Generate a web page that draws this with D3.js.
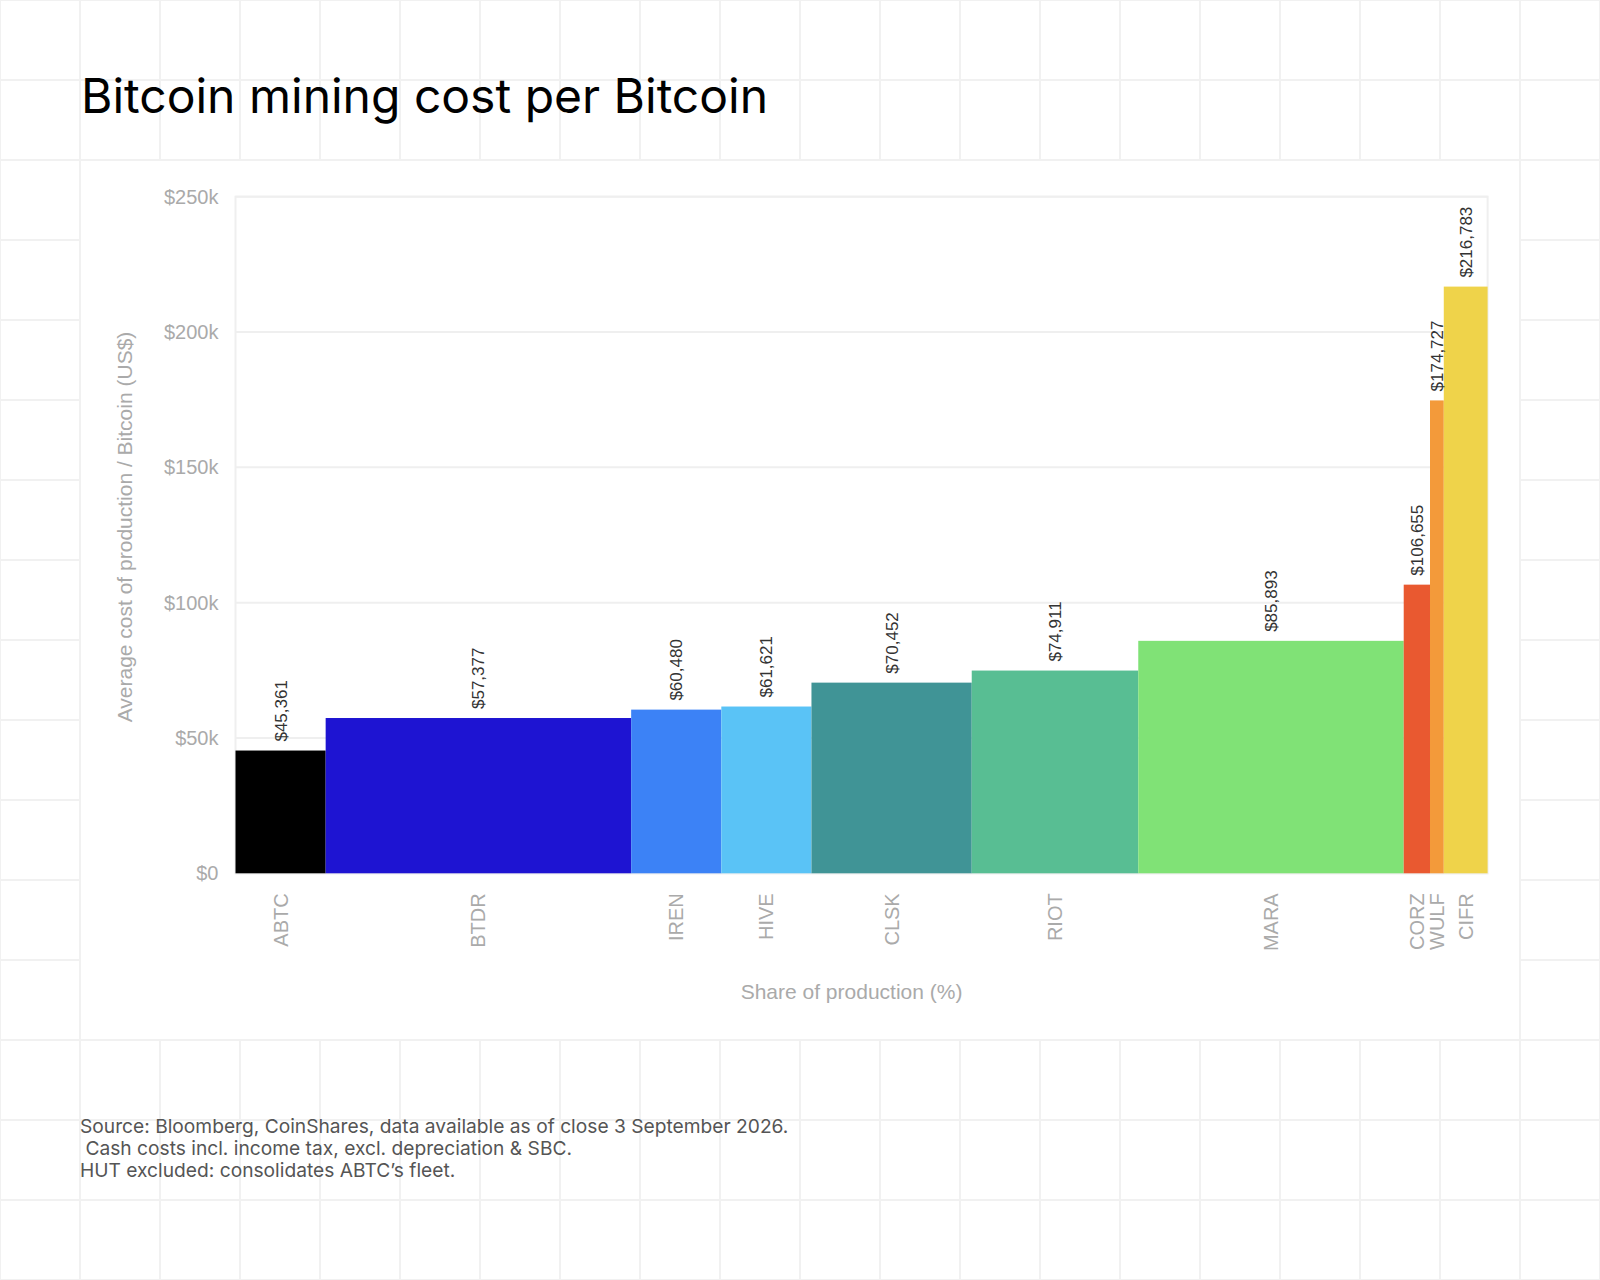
<!DOCTYPE html>
<html>
<head>
<meta charset="utf-8">
<style>
  body { margin: 0; background: #fff; }
  svg { display: block; }
</style>
</head>
<body>
<svg width="1600" height="1280"></svg>
<script src="https://d3js.org/d3.v7.min.js"></script>
<script>

// miners, left to right
var tickers = ["ABTC", "BTDR", "IREN", "HIVE", "CLSK", "RIOT", "MARA", "CORZ", "WULF", "CIFR"];
// average cost per bitcoin (US$)
var costs = [45361, 57377, 60480, 61621, 70452, 74911, 85893, 106655, 174727, 216783];
// share of production (%)
var shares = [7.2, 24.4, 7.2, 7.2, 12.8, 13.3, 21.2, 2.1, 1.1, 3.5];
var barColors = ["#000000", "#1e14d2", "#3c82f6", "#5ac3f6", "#409496",
                 "#58be93", "#80e276", "#e95930", "#f39a3a", "#efd34a"];
var yTicks = [0, 50000, 100000, 150000, 200000, 250000];
var footnotes = [
  "Source: Bloomberg, CoinShares, data available as of close 3 September 2026.",
  " Cash costs incl. income tax, excl. depreciation & SBC.",
  "HUT excluded: consolidates ABTC\u2019s fleet."
];

var drawChart = function() {

  var W = 1600, H = 1280;
  var svg = d3.select("svg");

  // background grid of 80px squares
  var grid = svg.append("g").attr("stroke", "#f1f1f1").attr("stroke-width", 2);
  grid.selectAll("line.v")
      .data(d3.range(0, W + 1, 80))
      .enter().append("line")
      .attr("x1", function(d) { return d; }).attr("x2", function(d) { return d; })
      .attr("y1", 0).attr("y2", H);
  grid.selectAll("line.h")
      .data(d3.range(0, H + 1, 80))
      .enter().append("line")
      .attr("y1", function(d) { return d; }).attr("y2", function(d) { return d; })
      .attr("x1", 0).attr("x2", W);

  // white card behind the chart
  svg.append("rect")
      .attr("x", 81).attr("y", 161)
      .attr("width", 1438).attr("height", 878)
      .attr("fill", "#fff");

  // title
  svg.append("text")
      .attr("x", 81).attr("y", 113)
      .style("font-family", "Inter, 'Liberation Sans', sans-serif")
      .style("font-size", "48px")
      .style("fill", "#000")
      .text("Bitcoin mining cost per Bitcoin");

  // plot area
  var pLeft = 235.5, pRight = 1487.6, pTop = 196.7, pBottom = 873.3;

  var x = d3.scaleLinear().domain([0, d3.sum(shares)]).range([pLeft, pRight]);
  var y = d3.scaleLinear().domain([0, 250000]).range([pBottom, pTop]);

  var axisFont = "'Liberation Sans', Arial, Helvetica, sans-serif";

  // horizontal gridlines
  svg.append("g")
      .selectAll("line")
      .data(yTicks)
      .enter().append("line")
      .attr("x1", pLeft).attr("x2", pRight)
      .attr("y1", function(d) { return y(d); })
      .attr("y2", function(d) { return y(d); })
      .attr("stroke", "#efefef")
      .attr("stroke-width", 2);

  // frame
  svg.append("rect")
      .attr("x", pLeft).attr("y", pTop)
      .attr("width", pRight - pLeft).attr("height", pBottom - pTop)
      .attr("fill", "none")
      .attr("stroke", "#efefef")
      .attr("stroke-width", 2);

  // y axis labels
  var yAxis = d3.axisLeft(y)
      .tickValues(yTicks)
      .tickSize(0)
      .tickPadding(17)
      .tickFormat(function(d) { return d === 0 ? "$0" : "$" + d / 1000 + "k"; });

  svg.append("g")
      .attr("transform", "translate(" + pLeft + ",0)")
      .call(yAxis)
      .call(function(g) { g.select(".domain").remove(); })
      .selectAll("text")
      .style("font-family", axisFont)
      .style("font-size", "20px")
      .style("fill", "#aaaaaa");

  // cumulative positions
  var rows = tickers.map(function(t, i) {
    return {
      ticker: t,
      cost: costs[i],
      start: d3.sum(shares.slice(0, i)),
      end: d3.sum(shares.slice(0, i + 1)),
      color: barColors[i]
    };
  });

  // bars
  svg.append("g")
      .selectAll("rect")
      .data(rows)
      .enter().append("rect")
      .attr("x", function(d) { return x(d.start); })
      .attr("width", function(d) { return x(d.end) - x(d.start); })
      .attr("y", function(d) { return y(d.cost); })
      .attr("height", function(d) { return y(0) - y(d.cost); })
      .attr("fill", function(d) { return d.color; });

  // value labels
  svg.append("g")
      .selectAll("text")
      .data(rows)
      .enter().append("text")
      .attr("transform", function(d) {
        return "translate(" + ((x(d.start) + x(d.end)) / 2) + "," + (y(d.cost) - 9) + ") rotate(-90)";
      })
      .attr("dy", "0.35em")
      .attr("text-anchor", "start")
      .style("font-family", axisFont)
      .style("font-size", "17px")
      .style("fill", "#333")
      .text(function(d) { return "$" + d3.format(",")(d.cost); });

  // ticker labels under the bars
  svg.append("g")
      .selectAll("text")
      .data(rows)
      .enter().append("text")
      .attr("transform", function(d) {
        return "translate(" + ((x(d.start) + x(d.end)) / 2) + "," + (pBottom + 20) + ") rotate(-90)";
      })
      .attr("dy", "0.35em")
      .attr("text-anchor", "end")
      .style("font-family", axisFont)
      .style("font-size", "20px")
      .style("fill", "#aaaaaa")
      .text(function(d) { return d.ticker; });

  // axis titles
  svg.append("text")
      .attr("transform", "translate(125," + ((pTop + pBottom) / 2 - 8) + ") rotate(-90)")
      .attr("dy", "0.35em")
      .attr("text-anchor", "middle")
      .style("font-family", axisFont)
      .style("font-size", "21px")
      .style("fill", "#aaaaaa")
      .text("Average cost of production / Bitcoin (US$)");

  svg.append("text")
      .attr("x", (pLeft + pRight) / 2 - 10)
      .attr("y", 999)
      .attr("text-anchor", "middle")
      .style("font-family", axisFont)
      .style("font-size", "21px")
      .style("fill", "#aaaaaa")
      .text("Share of production (%)");

  // footnote
  svg.append("g")
      .selectAll("text")
      .data(footnotes)
      .enter().append("text")
      .attr("x", 80)
      .attr("y", function(d, i) { return 1133 + i * 22; })
      .attr("xml:space", "preserve")
      .style("white-space", "pre")
      .style("font-family", "Inter, 'Liberation Sans', sans-serif")
      .style("font-size", "19.2px")
      .style("fill", "#555")
      .text(function(d) { return d; });
};

drawChart();

</script>
</body>
</html>
